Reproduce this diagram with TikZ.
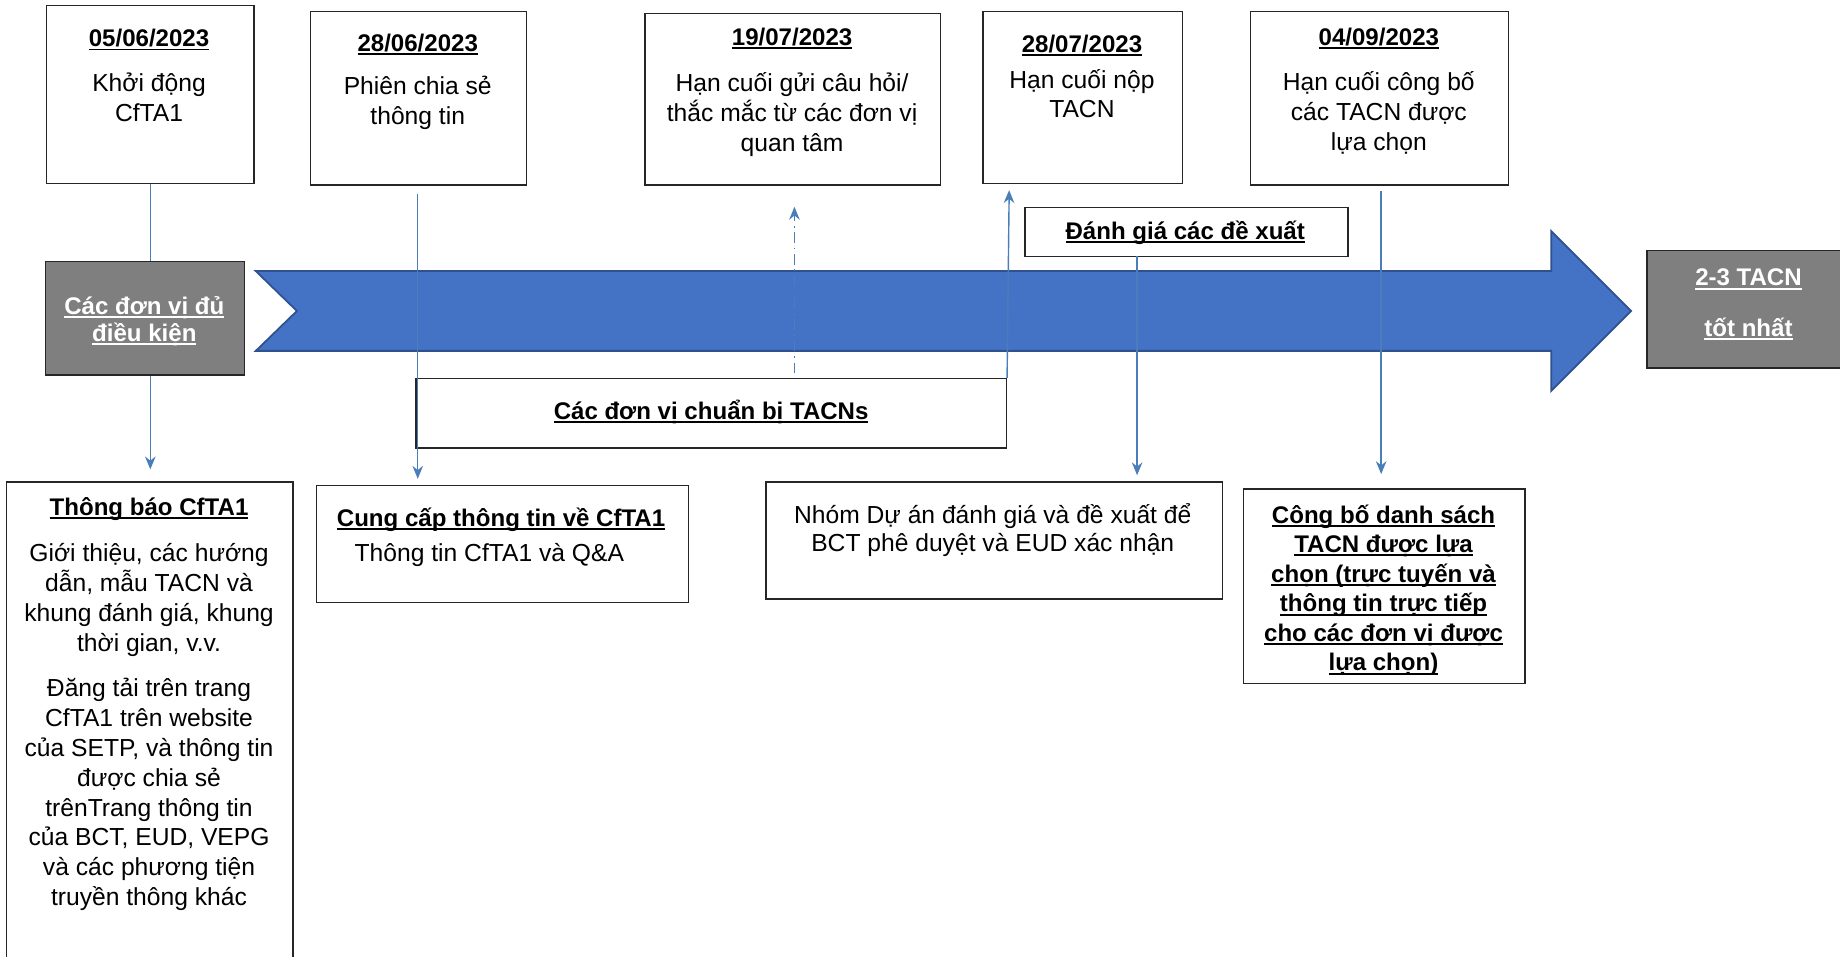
\documentclass[tikz,border=0pt]{standalone}
\usepackage{fontspec}
\setmainfont{Liberation Sans}
\usetikzlibrary{arrows.meta}
\definecolor{arrblue}{HTML}{4472C4}
\definecolor{arredge}{HTML}{2F528F}
\definecolor{lnblue}{HTML}{4A7EBB}
\definecolor{greybox}{HTML}{7F7F7F}
\definecolor{boxedge}{HTML}{262626}
\newcommand\ulx[1]{\setbox0\hbox{#1}\rlap{\rule[-3.2pt]{\wd0}{1.7pt}}\box0}
\begin{document}
\begin{tikzpicture}[x=1pt,y=-1pt,
  every node/.style={inner sep=0pt},
  box/.style={draw=boxedge, line width=1.2pt, fill=white, anchor=north west},
  gbox/.style={draw=boxedge, line width=1.2pt, fill=greybox, anchor=north west},
  txt/.style={align=center, yshift=-2pt, font=\fontsize{21}{25.5}\selectfont},
  btxt/.style={align=center, yshift=-2pt, font=\fontsize{20.5}{25.5}\selectfont\bfseries},
  wtxt/.style={align=center, yshift=-2pt, text=white, font=\fontsize{20.5}{23}\selectfont\bfseries},
  conn/.style={draw=lnblue, line width=1.2pt},
  tip/.style={-{Stealth[length=11pt,width=9pt]}}
]
\useasboundingbox (0,0) rectangle (1568,815);

% big arrow
\draw[fill=arrblue, draw=arredge, line width=1.5pt, line join=miter]
  (218,231) -- (1322,231) -- (1322,197) -- (1390,265) -- (1322,333) -- (1322,299)
  -- (218,299) -- (253,265) -- cycle;

% top boxes
\node[box, minimum width=177pt, minimum height=152pt] (b1) at (39,4) {};
\node[box, minimum width=184pt, minimum height=148pt] (b2) at (264,9) {};
\node[box, minimum width=252pt, minimum height=146pt] (b3) at (549,11) {};
\node[box, minimum width=170pt, minimum height=147pt] (b4) at (837,9) {};
\node[box, minimum width=220pt, minimum height=148pt] (b5) at (1065,9) {};

% bottom boxes
\node[box, minimum width=244pt, minimum height=430pt] (bl) at (5,410) {};
\node[box, minimum width=317pt, minimum height=100pt] (info) at (269,413) {};
\node[box, minimum width=389pt, minimum height=100pt] (nhom) at (652,410) {};
\node[box, minimum width=240pt, minimum height=166pt] (congbo) at (1059,416) {};

% middle boxes
\node[box, minimum width=275pt, minimum height=42pt] (eval) at (873,176) {};
\node[box, minimum width=503pt, minimum height=59pt] (prep) at (354,322) {};

% connector 1 (behind grey box)
\draw[conn, tip, shorten >=10pt] (b1.south) -- (b1.south |- bl.north);

% grey boxes
\node[gbox, minimum width=170pt, minimum height=97pt] (gL) at (38,222) {};
\node[gbox, minimum width=175pt, minimum height=100pt] (gR) at (1403,213) {};

% connectors
\coordinate (c2s) at (356,165);
\draw[conn, tip, shorten >=5pt] (c2s) -- (c2s |- info.north);
\coordinate (c3s) at (677,318);
\draw[conn, tip, shorten >=18pt, dash pattern=on 9pt off 4pt on 1.5pt off 4pt] (c3s) -- (c3s |- b3.south);
\coordinate (c4e) at (860,162);
\draw[conn, tip] (prep.north east) -- (c4e);
\coordinate (c5s) at (969,218);
\draw[conn, tip, shorten >=5pt] (c5s) -- (c5s |- nhom.north);
\coordinate (c6s) at (1177,163);
\draw[conn, tip, shorten >=12pt] (c6s) -- (c6s |- congbo.north);

% texts in top boxes
\node[btxt] (d1) at (127,32) {\ulx{05/06/2023}};
\node[txt] (t1) at (127,81) {Khởi động\\CfTA1};
\node[btxt] (d2) at (356,36) {\ulx{28/06/2023}};
\node[txt] (t2) at (356,86) {Phiên chia sẻ\\thông tin};
\node[btxt] (d3) at (675,31) {\ulx{19/07/2023}};
\node[txt] (t3) at (675,96) {Hạn cuối gửi câu hỏi/\\thắc mắc từ các đơn vị\\quan tâm};
\node[btxt] (d4) at (922,37) {\ulx{28/07/2023}};
\node[txt, font=\fontsize{21}{24.5}\selectfont] (t4) at (922,78) {Hạn cuối nộp\\TACN};
\node[btxt] (d5) at (1175,31) {\ulx{04/09/2023}};
\node[txt] (t5) at (1175,94.5) {Hạn cuối công bố\\các TACN được\\lựa chọn};

% grey box texts
\node[wtxt] (gLt) at (123,271.5) {\ulx{Các đơn vị đủ}\\\ulx{điều kiện}};
\node[wtxt] (gRt) at (1490,257.5) {\ulx{2-3 TACN}\\[20pt]\ulx{tốt nhất}};

% middle texts
\node[btxt] (evalt) at (1010,196) {\ulx{Đánh giá các đề xuất}};
\node[btxt] (prept) at (606,349) {\ulx{Các đơn vị chuẩn bị TACNs}};

% bottom texts
\node[btxt] (blt) at (127,432) {\ulx{Thông báo CfTA1}};
\node[txt] (blb1) at (127,509) {Giới thiệu, các hướng\\dẫn, mẫu TACN và\\khung đánh giá, khung\\thời gian, v.v.};
\node[txt] (blb2) at (127,675) {Đăng tải trên trang\\CfTA1 trên website\\của SETP, và thông tin\\được chia sẻ\\trênTrang thông tin\\của BCT, EUD, VEPG\\và các phương tiện\\truyền thông khác};
\node[btxt] (infot) at (427,441) {\ulx{Cung cấp thông tin về CfTA1}};
\node[txt] (infob) at (417,471) {Thông tin CfTA1 và Q\&A};
\node[txt, font=\fontsize{21}{24}\selectfont] (nhomt) at (846,450) {Nhóm Dự án đánh giá và đề xuất để\\BCT phê duyệt và EUD xác nhận};
\node[btxt, font=\fontsize{20.5}{25.2}\selectfont\bfseries] (congbot) at (1179,501) {\ulx{Công bố danh sách}\\\ulx{TACN được lựa}\\\ulx{chọn (trực tuyến và}\\\ulx{thông tin trực tiếp}\\\ulx{cho các đơn vị được}\\\ulx{lựa chọn)}};
\end{tikzpicture}
\end{document}
